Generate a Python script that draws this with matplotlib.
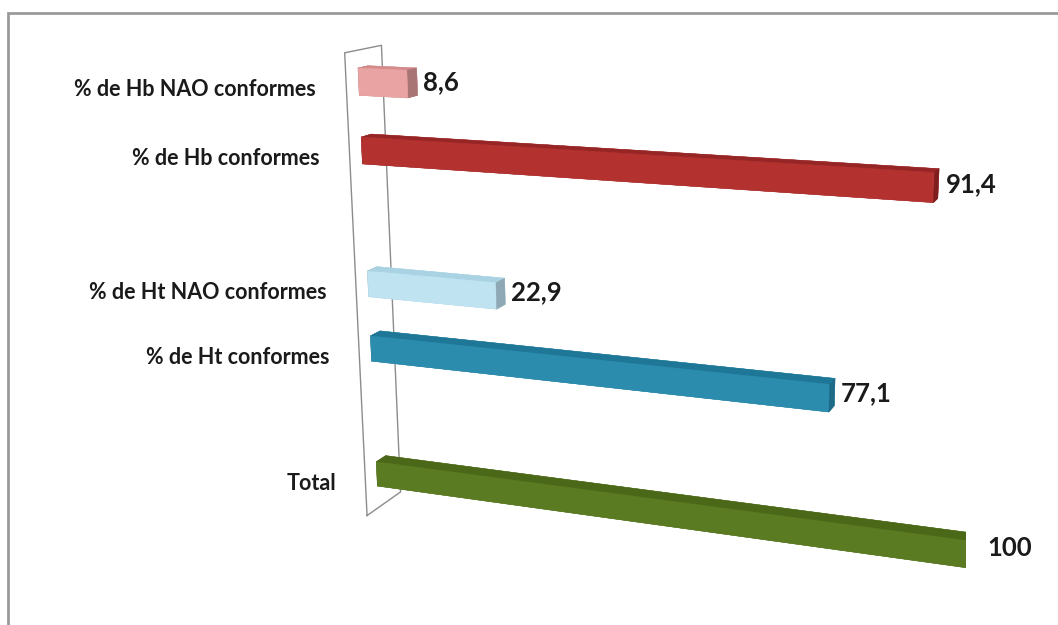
import matplotlib
matplotlib.use("Agg")
import matplotlib.pyplot as plt
from matplotlib.patches import Rectangle

# rows from bottom to top, as Excel draws them
categories = ["Total", "% de Ht conformes", "% de Ht NAO conformes",
              "% de Hb conformes", "% de Hb NAO conformes"]
values = [100, 77.1, 22.9, 91.4, 8.6]
value_labels = ["100", "77,1", "22,9", "91,4", "8,6"]
# category slots used in the sheet (slots 1 and 4 are empty rows)
slots = [0, 2, 3, 5, 6]

front_colors = ["#5b7b22", "#2b8cae", "#bfe3f0", "#b3312f", "#e9a3a3"]
top_colors = ["#4b6819", "#1f7797", "#a9d2e3", "#962626", "#d48b8b"]
end_colors = ["#3f5914", "#1c6a87", "#8ea8b5", "#7e1d1d", "#a87474"]

# geometry, in value units
SLOT_H = 10.9
BAR_T = 4.3
BAR_Y0, BAR_D = 3.8, 3.2
WALL_D = 11.5
Z_LO, Z_HI = -0.55 * SLOT_H, 6.45 * SLOT_H

FONT = "Lato"

fig = plt.figure(figsize=(10.58, 6.25), dpi=100)
fig.patch.set_facecolor("white")

side = 625 / 1058
cx, cy = 0.618, 0.488
ax = fig.add_axes([cx - side / 2, cy - 0.5, side, 1.0],
                  projection="3d", computed_zorder=False)
ax.set_proj_type("persp", focal_length=0.5)
ax.view_init(elev=15, azim=-70)
ax.set_xlim(0, 100)
ax.set_ylim(0, WALL_D)
ax.set_zlim(Z_LO, Z_HI)
ax.set_box_aspect((100, WALL_D, Z_HI - Z_LO), zoom=1.28)
ax.set_xticks([])
ax.set_yticks([])
ax.set_zticks([])
ax.set_axis_off()

# thin side wall behind the bars
ax.plot([0, 0, 0, 0, 0], [0, 0, WALL_D, WALL_D, 0],
        [Z_LO, Z_HI, Z_HI, Z_LO, Z_LO], color="#8c8c8c", lw=1.0, zorder=1)

for i, val in enumerate(values):
    zc = slots[i] * SLOT_H
    # face order: -z, +z, -y, +y, -x, +x
    cols = [top_colors[i], top_colors[i], front_colors[i], front_colors[i],
            end_colors[i], end_colors[i]]
    ax.bar3d(0, BAR_Y0, zc - BAR_T / 2, val, BAR_D, BAR_T, color=cols,
             shade=False, edgecolor=cols, linewidth=0.3, zorder=2)
    ax.text(-5.5, 0, zc - 1.0, categories[i], ha="right", va="center",
            fontsize=15.5, fontweight="bold", family=FONT, color="#1a1a1a",
            zorder=3)
    ax.text(val + 1.0, BAR_Y0 + BAR_D, zc, value_labels[i], ha="left",
            va="center", fontsize=18.5, fontweight="bold", family=FONT,
            color="#1a1a1a", zorder=3)

# chart-area border (cropped on the right and bottom in the original)
fig.add_artist(Rectangle((8 / 1058, -0.1), 1.2, 1.1 - 13 / 625,
                         transform=fig.transFigure, fill=False,
                         edgecolor="#9a9a9a", linewidth=2.0))

fig.savefig("out.png", dpi=100, facecolor="white")
